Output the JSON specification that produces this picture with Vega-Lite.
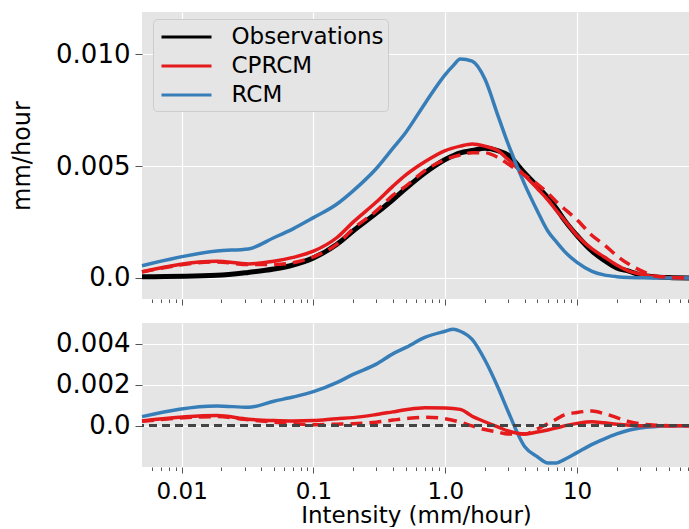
{
"$schema":"https://vega.github.io/schema/vega-lite/v6.json",
"padding":{"left":10,"top":12,"right":0,"bottom":0},
"spacing":16,
"config":{
 "font":"DejaVu Sans",
 "view":{"stroke":null,"fill":"#E5E5E5"},
 "axis":{"grid":true,"gridColor":"#FFFFFF","gridWidth":1.2,"domain":false,"tickColor":"#555555","labelColor":"#000000","titleColor":"#000000","labelFont":"DejaVu Sans","titleFont":"DejaVu Sans","titleFontWeight":"normal"}
},
"resolve":{"scale":{"color":"independent"},"legend":{"color":"independent"}},
"datasets":{
"top":[
{"s":"Observations","x":0.005,"y":0.00005},{"s":"Observations","x":0.0185,"y":0.00012},{"s":"Observations","x":0.032,"y":0.00025},{"s":"Observations","x":0.05,"y":0.0004},{"s":"Observations","x":0.07,"y":0.00058},{"s":"Observations","x":0.1,"y":0.0009},{"s":"Observations","x":0.15,"y":0.0015},{"s":"Observations","x":0.2,"y":0.0021},{"s":"Observations","x":0.3,"y":0.0029},{"s":"Observations","x":0.4,"y":0.0035},{"s":"Observations","x":0.5,"y":0.004},{"s":"Observations","x":0.7,"y":0.0047},{"s":"Observations","x":1,"y":0.0053},{"s":"Observations","x":1.3,"y":0.0056},{"s":"Observations","x":1.6,"y":0.0057},{"s":"Observations","x":2,"y":0.0058},{"s":"Observations","x":2.5,"y":0.0057},{"s":"Observations","x":3,"y":0.0055},{"s":"Observations","x":4,"y":0.0047},{"s":"Observations","x":5,"y":0.0041},{"s":"Observations","x":6,"y":0.0036},{"s":"Observations","x":7,"y":0.0031},{"s":"Observations","x":8,"y":0.0026},{"s":"Observations","x":10,"y":0.0019},{"s":"Observations","x":13,"y":0.0012},{"s":"Observations","x":16,"y":0.0008},{"s":"Observations","x":20,"y":0.00045},{"s":"Observations","x":25,"y":0.0003},{"s":"Observations","x":30,"y":0.00014},{"s":"Observations","x":40,"y":0.00005},{"s":"Observations","x":50,"y":0.00002},{"s":"Observations","x":72,"y":0},
{"s":"CPRCM","x":0.005,"y":0.00028},{"s":"CPRCM","x":0.0185,"y":0.00075},{"s":"CPRCM","x":0.032,"y":0.00063},{"s":"CPRCM","x":0.05,"y":0.00075},{"s":"CPRCM","x":0.07,"y":0.00092},{"s":"CPRCM","x":0.1,"y":0.0012},{"s":"CPRCM","x":0.15,"y":0.0018},{"s":"CPRCM","x":0.2,"y":0.0025},{"s":"CPRCM","x":0.3,"y":0.0034},{"s":"CPRCM","x":0.4,"y":0.0041},{"s":"CPRCM","x":0.5,"y":0.0046},{"s":"CPRCM","x":0.7,"y":0.0052},{"s":"CPRCM","x":1,"y":0.0057},{"s":"CPRCM","x":1.3,"y":0.0059},{"s":"CPRCM","x":1.6,"y":0.006},{"s":"CPRCM","x":2,"y":0.0059},{"s":"CPRCM","x":2.5,"y":0.0057},{"s":"CPRCM","x":3,"y":0.0053},{"s":"CPRCM","x":4,"y":0.0046},{"s":"CPRCM","x":5,"y":0.004},{"s":"CPRCM","x":6,"y":0.0035},{"s":"CPRCM","x":7,"y":0.003},{"s":"CPRCM","x":8,"y":0.0026},{"s":"CPRCM","x":10,"y":0.0019},{"s":"CPRCM","x":13,"y":0.0013},{"s":"CPRCM","x":16,"y":0.00095},{"s":"CPRCM","x":20,"y":0.00058},{"s":"CPRCM","x":25,"y":0.0003},{"s":"CPRCM","x":30,"y":0.00018},{"s":"CPRCM","x":40,"y":0.00005},{"s":"CPRCM","x":50,"y":0.00002},{"s":"CPRCM","x":72,"y":0},
{"s":"CPRCM alt","x":0.005,"y":0.00027},{"s":"CPRCM alt","x":0.0185,"y":0.00072},{"s":"CPRCM alt","x":0.032,"y":0.0006},{"s":"CPRCM alt","x":0.05,"y":0.0006},{"s":"CPRCM alt","x":0.07,"y":0.00068},{"s":"CPRCM alt","x":0.1,"y":0.00095},{"s":"CPRCM alt","x":0.15,"y":0.0015},{"s":"CPRCM alt","x":0.2,"y":0.0022},{"s":"CPRCM alt","x":0.3,"y":0.003},{"s":"CPRCM alt","x":0.4,"y":0.0037},{"s":"CPRCM alt","x":0.5,"y":0.0041},{"s":"CPRCM alt","x":0.7,"y":0.0048},{"s":"CPRCM alt","x":1,"y":0.0053},{"s":"CPRCM alt","x":1.3,"y":0.0055},{"s":"CPRCM alt","x":1.6,"y":0.0056},{"s":"CPRCM alt","x":2,"y":0.0056},{"s":"CPRCM alt","x":2.5,"y":0.0054},{"s":"CPRCM alt","x":3,"y":0.0051},{"s":"CPRCM alt","x":4,"y":0.0046},{"s":"CPRCM alt","x":5,"y":0.0042},{"s":"CPRCM alt","x":6,"y":0.0038},{"s":"CPRCM alt","x":7,"y":0.0034},{"s":"CPRCM alt","x":8,"y":0.0031},{"s":"CPRCM alt","x":10,"y":0.0026},{"s":"CPRCM alt","x":13,"y":0.0019},{"s":"CPRCM alt","x":16,"y":0.0015},{"s":"CPRCM alt","x":20,"y":0.001},{"s":"CPRCM alt","x":25,"y":0.0006},{"s":"CPRCM alt","x":30,"y":0.00035},{"s":"CPRCM alt","x":40,"y":0.00008},{"s":"CPRCM alt","x":50,"y":0.00003},{"s":"CPRCM alt","x":72,"y":0},
{"s":"RCM","x":0.005,"y":0.00055},{"s":"RCM","x":0.0185,"y":0.00121},{"s":"RCM","x":0.032,"y":0.0013},{"s":"RCM","x":0.05,"y":0.0018},{"s":"RCM","x":0.07,"y":0.0022},{"s":"RCM","x":0.1,"y":0.0027},{"s":"RCM","x":0.15,"y":0.0033},{"s":"RCM","x":0.2,"y":0.0039},{"s":"RCM","x":0.3,"y":0.0049},{"s":"RCM","x":0.4,"y":0.0058},{"s":"RCM","x":0.5,"y":0.0065},{"s":"RCM","x":0.7,"y":0.0078},{"s":"RCM","x":1,"y":0.0091},{"s":"RCM","x":1.15,"y":0.0095},{"s":"RCM","x":1.3,"y":0.0098},{"s":"RCM","x":1.6,"y":0.0097},{"s":"RCM","x":2,"y":0.0089},{"s":"RCM","x":2.5,"y":0.0073},{"s":"RCM","x":3,"y":0.006},{"s":"RCM","x":4,"y":0.0042},{"s":"RCM","x":5,"y":0.003},{"s":"RCM","x":6,"y":0.0021},{"s":"RCM","x":7,"y":0.0016},{"s":"RCM","x":8,"y":0.0012},{"s":"RCM","x":10,"y":0.0007},{"s":"RCM","x":13,"y":0.0003},{"s":"RCM","x":16,"y":0.00014},{"s":"RCM","x":20,"y":0.00006},{"s":"RCM","x":25,"y":0.00002},{"s":"RCM","x":30,"y":0.00001},{"s":"RCM","x":40,"y":0},{"s":"RCM","x":50,"y":0},{"s":"RCM","x":72,"y":0}
],
"bottom":[
{"s":"RCM","x":0.005,"y":0.00045},{"s":"RCM","x":0.0185,"y":0.00097},{"s":"RCM","x":0.032,"y":0.0009},{"s":"RCM","x":0.05,"y":0.0012},{"s":"RCM","x":0.07,"y":0.0014},{"s":"RCM","x":0.1,"y":0.00166},{"s":"RCM","x":0.15,"y":0.0021},{"s":"RCM","x":0.2,"y":0.0025},{"s":"RCM","x":0.3,"y":0.003},{"s":"RCM","x":0.4,"y":0.0035},{"s":"RCM","x":0.5,"y":0.0038},{"s":"RCM","x":0.7,"y":0.0043},{"s":"RCM","x":1,"y":0.0046},{"s":"RCM","x":1.15,"y":0.0047},{"s":"RCM","x":1.3,"y":0.0046},{"s":"RCM","x":1.6,"y":0.0042},{"s":"RCM","x":2,"y":0.0032},{"s":"RCM","x":2.5,"y":0.0019},{"s":"RCM","x":3,"y":0.0007},{"s":"RCM","x":4,"y":-0.001},{"s":"RCM","x":5,"y":-0.0015},{"s":"RCM","x":6,"y":-0.0018},{"s":"RCM","x":7,"y":-0.0018},{"s":"RCM","x":8,"y":-0.00164},{"s":"RCM","x":10,"y":-0.0013},{"s":"RCM","x":13,"y":-0.0009},{"s":"RCM","x":16,"y":-0.00064},{"s":"RCM","x":20,"y":-0.00039},{"s":"RCM","x":25,"y":-0.0002},{"s":"RCM","x":30,"y":-0.0001},{"s":"RCM","x":40,"y":-0.00003},{"s":"RCM","x":50,"y":0},{"s":"RCM","x":72,"y":0},
{"s":"CPRCM","x":0.005,"y":0.00024},{"s":"CPRCM","x":0.0185,"y":0.0005},{"s":"CPRCM","x":0.032,"y":0.00032},{"s":"CPRCM","x":0.05,"y":0.00026},{"s":"CPRCM","x":0.07,"y":0.00024},{"s":"CPRCM","x":0.1,"y":0.00026},{"s":"CPRCM","x":0.15,"y":0.00035},{"s":"CPRCM","x":0.2,"y":0.0004},{"s":"CPRCM","x":0.3,"y":0.00055},{"s":"CPRCM","x":0.4,"y":0.00068},{"s":"CPRCM","x":0.5,"y":0.00078},{"s":"CPRCM","x":0.7,"y":0.00088},{"s":"CPRCM","x":1,"y":0.00087},{"s":"CPRCM","x":1.3,"y":0.0008},{"s":"CPRCM","x":1.6,"y":0.00047},{"s":"CPRCM","x":2,"y":0.0002},{"s":"CPRCM","x":2.5,"y":-0.00005},{"s":"CPRCM","x":3,"y":-0.00025},{"s":"CPRCM","x":4,"y":-0.0004},{"s":"CPRCM","x":5,"y":-0.0003},{"s":"CPRCM","x":6,"y":-0.0002},{"s":"CPRCM","x":7,"y":-0.0001},{"s":"CPRCM","x":8,"y":0},{"s":"CPRCM","x":10,"y":0.00012},{"s":"CPRCM","x":13,"y":0.0002},{"s":"CPRCM","x":16,"y":0.00015},{"s":"CPRCM","x":20,"y":0.00008},{"s":"CPRCM","x":25,"y":0.00003},{"s":"CPRCM","x":30,"y":0.00001},{"s":"CPRCM","x":40,"y":0},{"s":"CPRCM","x":50,"y":0},{"s":"CPRCM","x":72,"y":0},
{"s":"CPRCM alt","x":0.005,"y":0.00022},{"s":"CPRCM alt","x":0.0185,"y":0.00045},{"s":"CPRCM alt","x":0.032,"y":0.0003},{"s":"CPRCM alt","x":0.05,"y":0.00018},{"s":"CPRCM alt","x":0.07,"y":0.0001},{"s":"CPRCM alt","x":0.1,"y":0.00005},{"s":"CPRCM alt","x":0.15,"y":0.00008},{"s":"CPRCM alt","x":0.2,"y":0.0001},{"s":"CPRCM alt","x":0.3,"y":0.00018},{"s":"CPRCM alt","x":0.4,"y":0.00028},{"s":"CPRCM alt","x":0.5,"y":0.00035},{"s":"CPRCM alt","x":0.7,"y":0.00042},{"s":"CPRCM alt","x":1,"y":0.00035},{"s":"CPRCM alt","x":1.3,"y":0.00018},{"s":"CPRCM alt","x":1.6,"y":0},{"s":"CPRCM alt","x":2,"y":-0.00018},{"s":"CPRCM alt","x":2.5,"y":-0.0003},{"s":"CPRCM alt","x":3,"y":-0.0004},{"s":"CPRCM alt","x":4,"y":-0.0004},{"s":"CPRCM alt","x":5,"y":-0.00015},{"s":"CPRCM alt","x":6,"y":0.0001},{"s":"CPRCM alt","x":7,"y":0.00033},{"s":"CPRCM alt","x":8,"y":0.00053},{"s":"CPRCM alt","x":10,"y":0.00065},{"s":"CPRCM alt","x":13,"y":0.00072},{"s":"CPRCM alt","x":16,"y":0.0006},{"s":"CPRCM alt","x":20,"y":0.0004},{"s":"CPRCM alt","x":25,"y":0.0002},{"s":"CPRCM alt","x":30,"y":0.0001},{"s":"CPRCM alt","x":40,"y":0.00003},{"s":"CPRCM alt","x":50,"y":0.00001},{"s":"CPRCM alt","x":72,"y":0}
]
},
"vconcat":[
{
 "width":548,"height":287,
 "resolve":{"axis":{"x":"independent"}},
 "layer":[
  {"data":{"name":"top"},"transform":[{"filter":"datum.s == 'Observations'"}],
   "mark":{"type":"line","strokeWidth":5,"interpolate":"monotone"},
   "encoding":{
    "x":{"field":"x","type":"quantitative","scale":{"type":"log","domain":[0.005,72],"nice":false},
     "axis":{"orient":"bottom","values":[0.01,0.1,1,10],"labels":false,"title":null,"tickSize":6,"grid":true}},
    "y":{"field":"y","type":"quantitative","scale":{"domain":[-0.00094,0.0119],"nice":false,"zero":false},
     "axis":{"values":[0,0.005,0.01],"labelExpr":"datum.value == 0 ? '0.0' : format(datum.value, '.3f')","labelFontSize":26,"tickSize":7,"labelPadding":5,"title":"mm/hour","titleFontSize":24,"titleX":-113,"titleBaseline":"alphabetic"}},
    "color":{"field":"s","type":"nominal","scale":{"domain":["Observations","CPRCM","RCM"],"range":["#000000","#E41A1C","#377EB8"]},
     "legend":{"orient":"none","legendX":11,"legendY":7,"title":null,"symbolType":"M0,0H4","symbolSize":625,"symbolOffset":-9.5,"symbolStrokeWidth":3,"labelFontSize":23,"labelOffset":56,"padding":4,"rowPadding":3,"fillColor":"#E5E5E5","strokeColor":"#CCCCCC","cornerRadius":4,"labelColor":"#000000"}}
   }},
  {"data":{"name":"top"},"transform":[{"filter":"datum.s == 'CPRCM' || datum.s == 'RCM'"}],
   "mark":{"type":"line","strokeWidth":3.5,"interpolate":"monotone"},
   "encoding":{
    "x":{"field":"x","type":"quantitative","axis":null},
    "y":{"field":"y","type":"quantitative","title":"mm/hour"},
    "color":{"field":"s","type":"nominal"}
   }},
  {"data":{"name":"top"},"transform":[{"filter":"datum.s == 'CPRCM alt'"}],
   "mark":{"type":"line","strokeWidth":3.5,"strokeDash":[12,7],"color":"#E41A1C","interpolate":"monotone"},
   "encoding":{
    "x":{"field":"x","type":"quantitative","axis":{"orient":"bottom","values":[0.006,0.007,0.008,0.009,0.02,0.03,0.04,0.05,0.06,0.07,0.08,0.09,0.2,0.3,0.4,0.5,0.6,0.7,0.8,0.9,2,3,4,5,6,7,8,9,20,30,40,50,60,70],"labels":false,"grid":false,"tickSize":3.5,"title":null}},
    "y":{"field":"y","type":"quantitative","title":"mm/hour"}
   }}
 ]
},
{
 "width":548,"height":144,
 "resolve":{"axis":{"x":"independent"}},
 "layer":[
  {"data":{"name":"bottom"},"transform":[{"filter":"datum.s == 'CPRCM' || datum.s == 'RCM'"}],
   "mark":{"type":"line","strokeWidth":3.5,"interpolate":"monotone"},
   "encoding":{
    "x":{"field":"x","type":"quantitative","scale":{"type":"log","domain":[0.005,72],"nice":false},
     "axis":{"orient":"bottom","values":[0.01,0.1,1,10],"labelExpr":"datum.value < 0.05 ? '0.01' : datum.value < 0.5 ? '0.1' : datum.value < 5 ? '1.0' : '10'","labelFontSize":23,"labelPadding":7,"tickSize":6,"title":"Intensity (mm/hour)","titleFontSize":23,"titlePadding":1,"grid":true}},
    "y":{"field":"y","type":"quantitative","scale":{"domain":[-0.002,0.005],"nice":false,"zero":false},
     "axis":{"values":[0,0.002,0.004],"labelExpr":"datum.value == 0 ? '0.0' : format(datum.value, '.3f')","labelFontSize":26,"tickSize":7,"labelPadding":5,"title":null}},
    "color":{"field":"s","type":"nominal","scale":{"domain":["CPRCM","RCM"],"range":["#E41A1C","#377EB8"]},"legend":null}
   }},
  {"data":{"name":"bottom"},"transform":[{"filter":"datum.s == 'CPRCM alt'"}],
   "mark":{"type":"line","strokeWidth":3.5,"strokeDash":[12,7],"color":"#E41A1C","interpolate":"monotone"},
   "encoding":{
    "x":{"field":"x","type":"quantitative","axis":{"orient":"bottom","values":[0.006,0.007,0.008,0.009,0.02,0.03,0.04,0.05,0.06,0.07,0.08,0.09,0.2,0.3,0.4,0.5,0.6,0.7,0.8,0.9,2,3,4,5,6,7,8,9,20,30,40,50,60,70],"labels":false,"grid":false,"tickSize":3.5,"title":null}},
    "y":{"field":"y","type":"quantitative","title":null}
   }},
  {"data":{"name":"bottom"},
   "mark":{"type":"rule","strokeDash":[8,5],"color":"#444444","strokeWidth":2},
   "encoding":{"y":{"datum":0,"type":"quantitative","title":null}}}
 ]
}
]
}
